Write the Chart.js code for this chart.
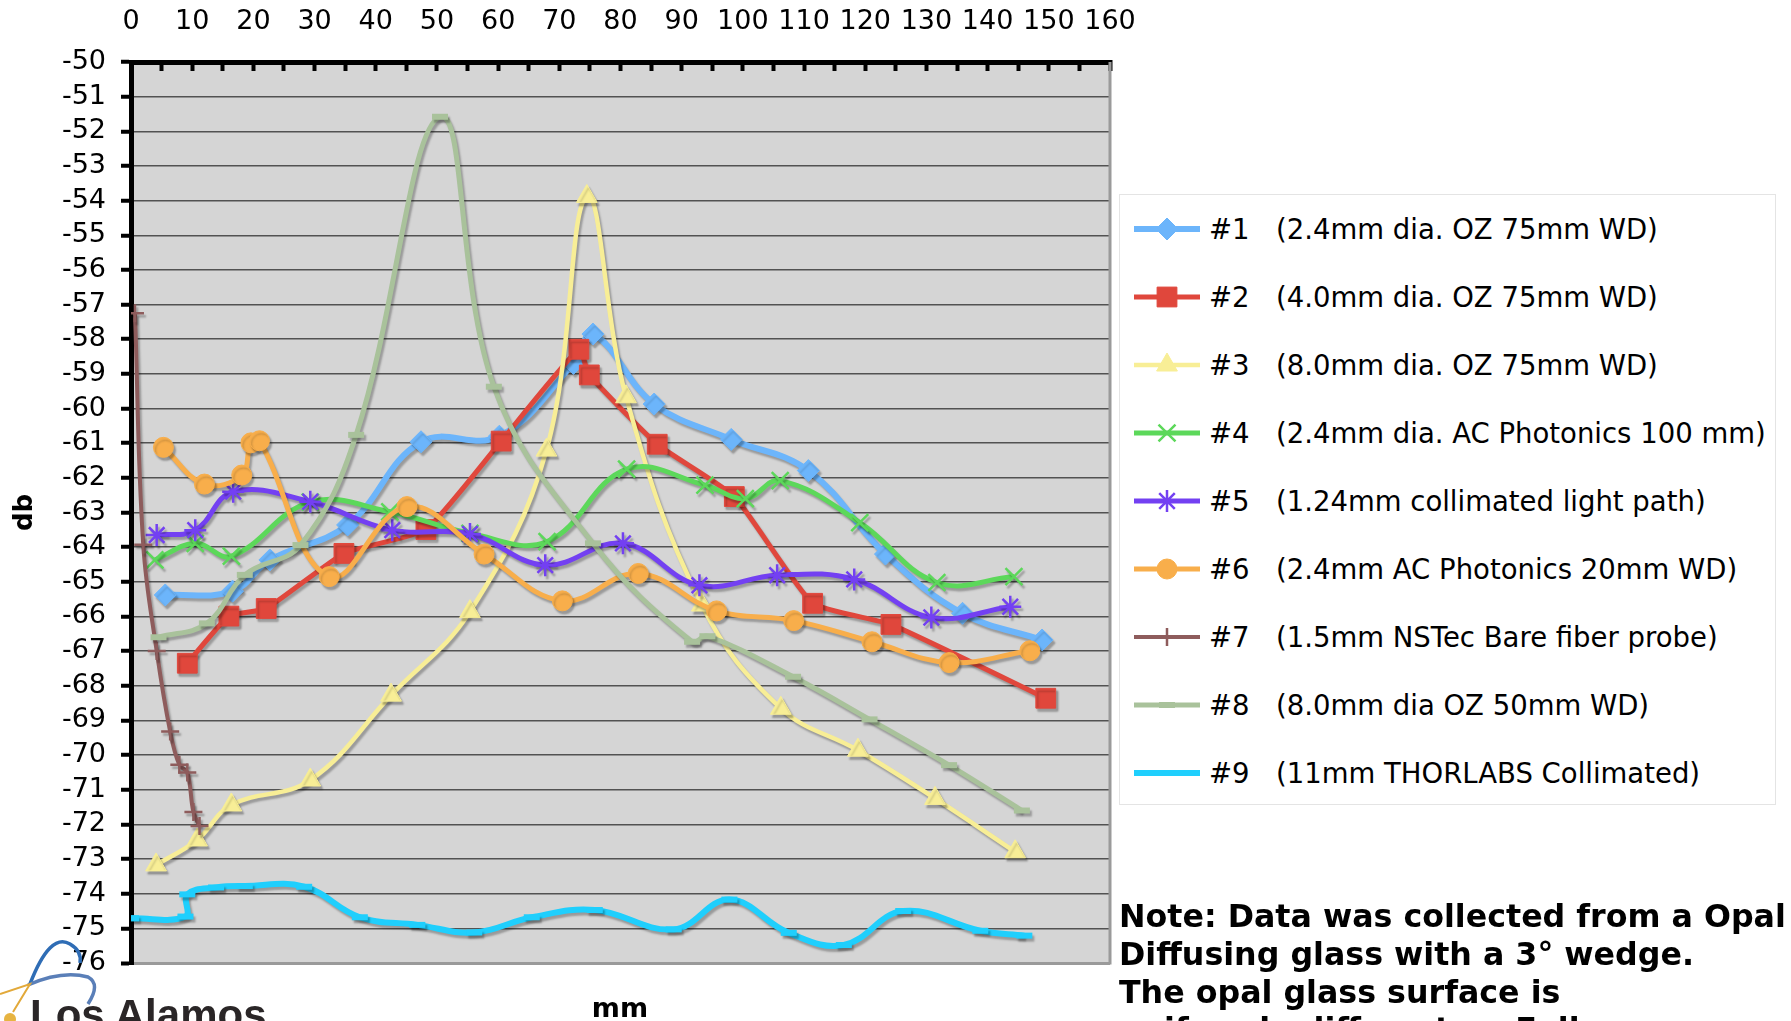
<!DOCTYPE html>
<html>
<head>
<meta charset="utf-8">
<title>Probe scan over opal diffusing glass</title>
<script src="https://cdn.jsdelivr.net/npm/chart.js@4.4.1/dist/chart.umd.min.js"></script>
<style>
  body { margin: 0; background: #fff; overflow: hidden; }
  #wrap { position: relative; width: 1791px; height: 1021px; overflow: hidden; }
  #chart { position: absolute; left: 0; top: 0; }
  #legend { position: absolute; left: 1119px; top: 194px; width: 657px; height: 611px;
            border: 1px solid #e4e4e4; box-sizing: border-box; background: #fff; }
  .row { position: absolute; left: 14px; height: 40px; display: flex; align-items: center;
         font: 27.5px "DejaVu Sans", sans-serif; color: #000; white-space: nowrap; }
  .row canvas { margin-right: 9px; }
  .num { display: inline-block; width: 67px; }
  #note { position: absolute; left: 1119px; top: 898px; font: bold 31.7px "DejaVu Sans", sans-serif;
          line-height: 37.8px; white-space: nowrap; color: #000; }
  #mm { position: absolute; left: 570px; width: 100px; text-align: center; top: 994px;
        font: bold 27px "DejaVu Sans", sans-serif; line-height: 27px; color: #000; }
  #lanl { position: absolute; left: 30px; top: 992px; font: bold 42px "Liberation Sans", Arial, sans-serif;
          line-height: 46px; color: #2a2627; white-space: nowrap; }
  #logo { position: absolute; left: 0; top: 0; pointer-events: none; }
</style>
</head>
<body>
<div id="wrap">
  <canvas id="chart" width="1791" height="1021"></canvas>
  <div id="legend"></div>
  <div id="note">Note: Data was collected from a Opal<br>Diffusing glass with a 3° wedge.<br>The opal glass surface is<br>uniformly diffuse to a Full</div>
  <div id="mm">mm</div>
  <div id="lanl">Los Alamos</div>
  <svg id="logo" width="120" height="1021">
    <path d="M30 984 Q 50 932 70 944 Q 82 951 80 963" fill="none" stroke="#2f6db5" stroke-width="3.5"/>
    <path d="M28 985 Q 62 970 88 977 Q 101 984 88 1004" fill="none" stroke="#5a7fb8" stroke-width="3.5"/>
    <path d="M0 994 L 30 984 L 13 1012" fill="none" stroke="#e2a93a" stroke-width="2"/>
    <circle cx="10" cy="1019" r="6" fill="#e7b441"/>
  </svg>
</div>
<script>
// probe numbers and descriptions (legend)
const probeNums = ['#1', '#2', '#3', '#4', '#5', '#6', '#7', '#8', '#9'];
const probeDesc = [
    '(2.4mm dia. OZ 75mm WD)',
    '(4.0mm dia. OZ 75mm WD)',
    '(8.0mm dia. OZ 75mm WD)',
    '(2.4mm dia. AC Photonics 100 mm)',
    '(1.24mm collimated light path)',
    '(2.4mm AC Photonics 20mm WD)',
    '(1.5mm NSTec Bare fiber probe)',
    '(8.0mm dia OZ 50mm WD)',
    '(11mm THORLABS Collimated)'
];

// position (mm) and signal (db) read for each probe
const probe1X = [5.6, 16.6, 22.7, 35.4, 47.4, 60.2, 72.3, 75.5, 85.5, 98.1, 110.7, 123.3, 135.9, 148.9];
const probe1Y = [-65.38, -65.27, -64.37, -63.36, -60.96, -60.8, -58.7, -57.85, -59.87, -60.89, -61.79, -64.2, -65.91, -66.68];

const probe2X = [9.2, 16.0, 22.1, 34.8, 48.2, 60.5, 73.2, 74.9, 86.0, 98.6, 111.4, 124.2, 149.5];
const probe2Y = [-67.35, -65.99, -65.77, -64.18, -63.49, -60.94, -58.29, -59.03, -61.03, -62.54, -65.62, -66.23, -68.36];

const probe3X = [4.1, 10.8, 16.4, 29.3, 42.5, 55.4, 67.9, 74.5, 80.9, 93.3, 106.2, 118.8, 131.4, 144.5];
const probe3Y = [-73.17, -72.45, -71.44, -70.72, -68.27, -65.86, -61.2, -53.88, -59.66, -65.67, -68.65, -69.86, -71.25, -72.79];

const probe4X = [3.9, 10.5, 16.4, 29.3, 42.3, 55.4, 68.0, 81.0, 93.8, 100.4, 106.1, 119.1, 131.7, 144.3];
const probe4Y = [-64.37, -63.89, -64.26, -62.7, -62.98, -63.6, -63.84, -61.75, -62.21, -62.6, -62.08, -63.29, -65.02, -64.85];

const probe5X = [4.2, 10.5, 16.7, 29.3, 42.7, 55.4, 67.7, 80.4, 92.9, 105.6, 118.2, 130.8, 143.7];
const probe5Y = [-63.65, -63.51, -62.4, -62.69, -63.51, -63.62, -64.52, -63.89, -65.1, -64.81, -64.93, -66.03, -65.72];

const probe6X = [5.3, 12.0, 18.1, 19.6, 21.0, 32.4, 45.1, 57.7, 70.5, 82.9, 95.7, 108.3, 121.1, 133.7, 146.9];
const probe6Y = [-61.12, -62.18, -61.92, -60.99, -60.93, -64.85, -62.83, -64.2, -65.55, -64.76, -65.84, -66.12, -66.73, -67.33, -66.99];

const probe7X = [0.65, 2.0, 4.2, 6.4, 7.9, 9.2, 10.2, 11.2];
const probe7Y = [-57.25, -63.93, -67.0, -69.32, -70.28, -70.5, -71.64, -72.05];

const probe8X = [4.5, 12.4, 18.6, 27.7, 36.8, 50.5, 59.3, 75.5, 91.7, 94.2, 108.2, 120.7, 133.7, 145.6];
const probe8Y = [-66.6, -66.2, -64.8, -63.94, -60.76, -51.58, -59.37, -63.89, -66.73, -66.57, -67.74, -68.97, -70.29, -71.6];

const probe9X = [0, 8.9, 9.2, 13.9, 18.6, 28.3, 37.4, 46.8, 56.1, 65.5, 75.8, 88.7, 97.8, 107.5, 116.5, 126.2, 138.8, 146.0];
const probe9Y = [-74.71, -74.66, -74.02, -73.82, -73.78, -73.8, -74.68, -74.9, -75.12, -74.68, -74.47, -75.03, -74.17, -75.13, -75.48, -74.5, -75.07, -75.21];

const probeX = [probe1X, probe2X, probe3X, probe4X, probe5X, probe6X, probe7X, probe8X, probe9X];
const probeY = [probe1Y, probe2Y, probe3Y, probe4Y, probe5Y, probe6Y, probe7Y, probe8Y, probe9Y];

// look of each series
const colors = ['#6cb5fb', '#e0473c', '#f8ee96', '#5cd85a', '#7340f2', '#f8ae4b', '#8e5c5c', '#a9c29b', '#1fcffd'];
const lineWidths = [6, 5, 4.5, 5, 5, 5, 4, 5, 6];
const tensions = [0.4, 0.15, 0.4, 0.4, 0.4, 0.4, 0.4, 0.4, 0.4];
const pointStyles = ['rectRot', 'rect', 'triangle', 'crossRot', 'star', 'circle', 'cross', 'line', 'line'];
const pointRadii = [11, 14, 12, 12, 11, 10, 9, 8, 8];
const pointBorders = [1, 1, 1, 2.5, 2.5, 1, 2.5, 6, 6];

var datasets = [];
for (var i = 0; i < probeNums.length; i++) {
    datasets.push({
        label: probeNums[i] + ' ' + probeDesc[i],
        data: probeX[i].map(function (x, j) { return { x: x, y: probeY[i][j] }; }),
        borderColor: colors[i],
        backgroundColor: colors[i],
        borderWidth: lineWidths[i],
        tension: tensions[i],
        fill: false,
        pointStyle: pointStyles[i],
        pointRadius: pointRadii[i],
        pointBackgroundColor: colors[i],
        pointBorderColor: colors[i],
        pointBorderWidth: pointBorders[i],
        order: probeNums.length - i   // later series on top
    });
}

// grey plot background and right edge
const plotBox = {
    id: 'plotBox',
    beforeDraw: function (chart) {
        var a = chart.chartArea, ctx = chart.ctx;
        ctx.save();
        ctx.fillStyle = '#d5d5d5';
        ctx.fillRect(a.left, a.top, a.right - a.left, a.bottom - a.top);
        ctx.restore();
    },
    beforeDatasetsDraw: function (chart) {
        var a = chart.chartArea, ctx = chart.ctx;
        ctx.save();
        ctx.strokeStyle = '#9a9a9a';
        ctx.lineWidth = 3;
        ctx.beginPath();
        ctx.moveTo(a.right, a.top);
        ctx.lineTo(a.right, a.bottom + 1.5);
        ctx.stroke();
        ctx.restore();
    }
};

// soft drop shadow under lines and markers
const dropShadow = {
    id: 'dropShadow',
    beforeDatasetsDraw: function (chart) {
        var ctx = chart.ctx;
        ctx.save();
        ctx.shadowColor = 'rgba(0,0,0,0.28)';
        ctx.shadowOffsetX = 2;
        ctx.shadowOffsetY = 3;
        ctx.shadowBlur = 2;
    },
    afterDatasetsDraw: function (chart) {
        chart.ctx.restore();
    }
};

var ctx = document.getElementById('chart').getContext('2d');
var chart = new Chart(ctx, {
    type: 'line',
    data: { datasets: datasets },
    options: {
        responsive: false,
        animation: false,
        devicePixelRatio: 1,
        layout: { padding: { left: 0, top: 0, right: 681, bottom: 58 } },
        plugins: {
            legend: { display: false },
            tooltip: { enabled: false }
        },
        scales: {
            x: {
                type: 'linear',
                position: 'top',
                min: 0,
                max: 160,
                afterFit: function (s) { s.height = 62; },
                ticks: {
                    stepSize: 5,
                    autoSkip: false,
                    maxRotation: 0,
                    padding: 33,
                    color: '#000',
                    font: { family: 'DejaVu Sans', size: 27 },
                    callback: function (v) { return v % 10 === 0 ? v : ''; }
                },
                grid: {
                    drawOnChartArea: false,
                    tickLength: -9,
                    tickColor: '#000',
                    tickWidth: 4
                },
                border: { color: '#000', width: 5 }
            },
            y: {
                type: 'linear',
                min: -76,
                max: -50,
                afterFit: function (s) { s.width = 131; },
                ticks: {
                    stepSize: 1,
                    autoSkip: false,
                    padding: 15,
                    color: '#000',
                    font: { family: 'DejaVu Sans', size: 27 }
                },
                grid: {
                    color: function (c) {
                        if (c.tick && c.tick.value === -50) return 'rgba(0,0,0,0)';
                        if (c.tick && c.tick.value === -76) return '#9a9a9a';
                        return '#525252';
                    },
                    lineWidth: function (c) { return c.tick && c.tick.value === -76 ? 3 : 1.5; },
                    tickLength: 10,
                    tickColor: '#000',
                    tickWidth: 4
                },
                border: { color: '#000', width: 5 },
                title: {
                    display: true,
                    text: 'db',
                    color: '#000',
                    font: { family: 'DejaVu Sans', size: 26, weight: 'bold' },
                    padding: { top: 10, bottom: 0 }
                }
            }
        }
    },
    plugins: [plotBox, dropShadow]
});

// legend rows: line with marker, number, description
var legend = document.getElementById('legend');
for (var k = 0; k < probeNums.length; k++) {
    var row = document.createElement('div');
    row.className = 'row';
    row.style.top = (34 + 68 * k - 20) + 'px';
    var cv = document.createElement('canvas');
    cv.width = 66;
    cv.height = 40;
    var c = cv.getContext('2d');
    c.strokeStyle = colors[k];
    c.lineWidth = lineWidths[k];
    c.beginPath();
    c.moveTo(0, 20);
    c.lineTo(66, 20);
    c.stroke();
    c.fillStyle = colors[k];
    c.lineWidth = pointBorders[k];
    Chart.helpers.drawPoint(c, { pointStyle: pointStyles[k], radius: pointRadii[k], rotation: 0, borderWidth: pointBorders[k] }, 33, 20);
    row.appendChild(cv);
    var num = document.createElement('span');
    num.className = 'num';
    num.textContent = probeNums[k];
    row.appendChild(num);
    var desc = document.createElement('span');
    desc.textContent = probeDesc[k];
    row.appendChild(desc);
    legend.appendChild(row);
}
</script>
</body>
</html>
